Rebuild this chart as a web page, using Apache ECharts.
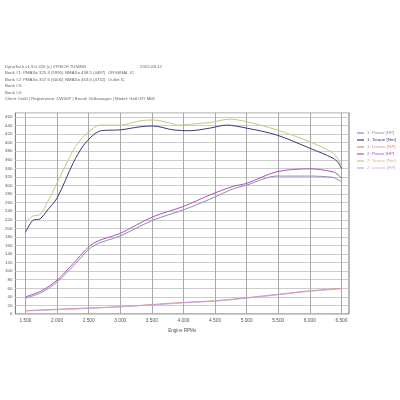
<!DOCTYPE html>
<html><head><meta charset="utf-8">
<script src="https://cdn.jsdelivr.net/npm/echarts@6/dist/echarts.min.js"></script>
<style>html,body{margin:0;padding:0;background:#fff}#c{width:400px;height:400px}</style>
</head><body><div id="c"></div>
<script>
const rpmTicks = [1500,2000,2500,3000,3500,4000,4500,5000,5500,6000,6500];
const torque2Rpm = [1500,1619,1729,1850,2000,2256,2410,2573,2679,3000,3311,3517,3833,3892,4261,4419,4735,5000,5474,6001,6365,6476,6502];
const torque2Val = [215,229,232,262,306,383,413,434,441,441,451,453,444,441,445,447,455,449,430,402,376,353,344];
const torque1Rpm = [1500,1619,1729,1850,2000,2256,2410,2573,2700,3000,3311,3517,3833,4103,4419,4683,5000,5474,6001,6365,6450,6502];
const torque1Val = [191,219,222,243,271,353,392,418,428,430,437,439,430,428,434,441,434,418,387,364,353,340];
const power2Rpm = [1500,1750,2000,2256,2573,2995,3517,3997,4419,4783,5000,5474,6001,6365,6450,6502];
const power2Val = [40,54,79,118,165,188,227,251,278,298,305,332,339,332,325,317];
const power1Rpm = [1500,1750,2000,2256,2573,2995,3517,3997,4419,4783,5000,5474,6001,6365,6450,6502];
const power1Val = [37,50,75,112,159,182,219,243,268,292,301,322,322,319,313,309];
const lossesRpm = [1500,2000,2500,3000,3500,4000,4500,5000,5500,6000,6500];
const losses1Val = [8,11,14,17,22,27,31,38,46,54,60];
const losses2Val = [7,10,13,17,21,26,30,37,45,53,59];
const headerLines = [
  "DynoTech v1.9.0.220 (c) VITECH TUNING",
  "Bank #1: PMAX= 325.3 (5995)",
  "Bank #2: PMAX= 357.6 (6006)",
  "Bank #3:",
  "Bank #4:",
  "Client: 0x00 | Registration: DW00P | Brand: Volkswagen | Model: Golf GTI Mk8"
];
const headerMid = ["", "NMAX= 438.5 (4487)", "NMAX= 463.6 (4732)"];
const headerRight = ["", "ORIGINAL IC", "Outlet IC"];
const headerDate = "2022-08-12";

const seriesDefs = [
  {name:'1: Power [HP]', color:'#8a90a8', x:power1Rpm, y:power1Val},
  {name:'1: Torque [Nm]', color:'#3a3a7a', x:torque1Rpm, y:torque1Val},
  {name:'1: Losses [HP]', color:'#d88a8a', x:lossesRpm, y:losses1Val},
  {name:'2: Power [HP]', color:'#b050c0', x:power2Rpm, y:power2Val},
  {name:'2: Torque [Nm]', color:'#cdc485', x:torque2Rpm, y:torque2Val},
  {name:'2: Losses [HP]', color:'#c8a8e0', x:lossesRpm, y:losses2Val}
];

const txtColor = '#666';
const fs = 4.3;
const graphics = [];
const lineYs = [67,73.5,80,86.5,93,99.5];
headerLines.forEach((t,i)=>graphics.push({type:'text',left:5,top:lineYs[i]-2.5,style:{text:t,fontSize:fs,fill:txtColor,fontFamily:'Arial'}}));
headerMid.forEach((t,i)=>{ if(t) graphics.push({type:'text',left:65,top:lineYs[i]-2.5,style:{text:t,fontSize:fs,fill:txtColor,fontFamily:'Arial'}});});
headerRight.forEach((t,i)=>{ if(t) graphics.push({type:'text',left:108,top:lineYs[i]-2.5,style:{text:t,fontSize:fs,fill:txtColor,fontFamily:'Arial'}});});
graphics.push({type:'text',left:140,top:lineYs[0]-2.5,style:{text:headerDate,fontSize:fs,fill:txtColor,fontFamily:'Arial'}});

const chart = echarts.init(document.getElementById('c'));
chart.setOption({
  animation:false,
  backgroundColor:'#fff',
  graphic: graphics,
  grid:{left:15.4,top:112.7,width:333.6,height:201.3,show:true,borderColor:'#707070',borderWidth:1,backgroundColor:'#fff',containLabel:false,outerBoundsMode:'none'},
  legend:{
    orient:'vertical', left:352, top:126, itemGap:3, itemWidth:7, itemHeight:1.2, icon:'rect',
    data: seriesDefs.map(s=>({name:s.name,textStyle:{color:s.color}})),
    textStyle:{fontSize:4.4,fontFamily:'Arial',padding:[0,0,0,-2]}
  },
  xAxis:{type:'value',min:1340,max:6620,
    name:'Engine RPMs',nameLocation:'middle',nameGap:13,nameTextStyle:{fontSize:4.6,color:'#555',fontFamily:'Arial'},
    axisLine:{show:false},
    axisTick:{show:false,customValues:rpmTicks},
    axisLabel:{customValues:rpmTicks,fontSize:4.8,color:'#555',margin:4,fontFamily:'Arial',formatter:v=>(v/1000).toFixed(3)},
    splitLine:{show:true,lineStyle:{color:'#a8a8a8',width:1}}
  },
  yAxis:{type:'value',min:0,max:470,interval:20,
    name:'Power [HP] / Torque [Nm]',nameLocation:'middle',nameGap:10,nameRotate:90,nameTextStyle:{fontSize:4.6,color:'#555',fontFamily:'Arial'},
    axisLine:{show:false},axisTick:{show:false},
    axisLabel:{fontSize:4.4,color:'#555',margin:3,showMaxLabel:false,fontFamily:'Arial'},
    splitLine:{show:true,lineStyle:{color:'#cccccc',width:1}}
  },
  series: seriesDefs.map(s=>({
    name:s.name,type:'line',showSymbol:false,smooth:0.3,color:s.color,
    lineStyle:{width:1,color:s.color},
    data:s.x.map((r,i)=>[r,s.y[i]])
  }))
});
</script></body></html>
